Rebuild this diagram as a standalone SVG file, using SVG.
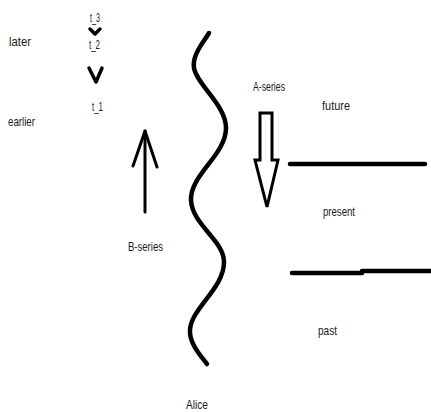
<svg xmlns="http://www.w3.org/2000/svg" width="431" height="412" viewBox="0 0 431 412">
<style>
.t{font-family:"Liberation Sans",Arial,sans-serif;font-size:13px;fill:#1a1a1a}
.k{fill:none;stroke:#000;stroke-linecap:round;stroke-linejoin:round}
</style>
<rect width="431" height="412" fill="#fff"/>
<g id="labels-left">
<text class="t" x="9" y="46" textLength="22" lengthAdjust="spacingAndGlyphs">later</text>
<text class="t" x="8" y="126" textLength="27" lengthAdjust="spacingAndGlyphs">earlier</text>
</g>
<g id="t3"><text class="t" x="90" y="22" textLength="10" lengthAdjust="spacingAndGlyphs">t_3</text></g>
<g id="t2"><text class="t" x="89" y="49" textLength="11" lengthAdjust="spacingAndGlyphs">t_2</text></g>
<g id="t1"><text class="t" x="92" y="111" textLength="11" lengthAdjust="spacingAndGlyphs">t_1</text></g>
<g id="alice">
<path class="k" stroke-width="4.5" d="M209,33 C203,43 192,55 194,68 C197,85 226,105 226,128 C226,155 190,175 191,200 C192,225 224,240 224,262 C224,290 188,310 190,333 C191,345 200,355 207,364"/>
<text class="t" x="186" y="409" textLength="22" lengthAdjust="spacingAndGlyphs">Alice</text>
</g>
<g id="b-series">
<text class="t" x="128" y="251" textLength="35" lengthAdjust="spacingAndGlyphs">B-series</text>
</g>
<g id="a-series">
<text class="t" x="253" y="91" textLength="32" lengthAdjust="spacingAndGlyphs">A-series</text>
<polygon points="260,113 272,113 272,160 278,160 267,207 255,160 260,160" fill="#fff" stroke="#000" stroke-width="3" stroke-linejoin="miter"/>
</g>
<g id="future"><text class="t" x="322" y="110" textLength="28" lengthAdjust="spacingAndGlyphs">future</text></g>
<g id="present"><text class="t" x="323" y="216" textLength="32" lengthAdjust="spacingAndGlyphs">present</text></g>
<g id="past"><text class="t" x="318" y="335" textLength="19" lengthAdjust="spacingAndGlyphs">past</text></g>
<g id="connectors">
<polyline class="k" stroke-width="3.5" points="90,29 95,34 100,29"/>
<polyline class="k" stroke-width="3.5" points="89,68 96,82 102,68"/>
<line class="k" stroke-width="3" x1="145" y1="131" x2="145" y2="212"/>
<polyline class="k" stroke-width="3" points="133,166 145,131 157,167"/>
<line class="k" stroke-width="4.5" x1="290" y1="164" x2="425" y2="164"/>
<line class="k" stroke-width="4.5" x1="292" y1="273" x2="362" y2="273"/>
<line class="k" stroke-width="4.5" x1="362" y1="271" x2="433" y2="271"/>
</g>
</svg>
